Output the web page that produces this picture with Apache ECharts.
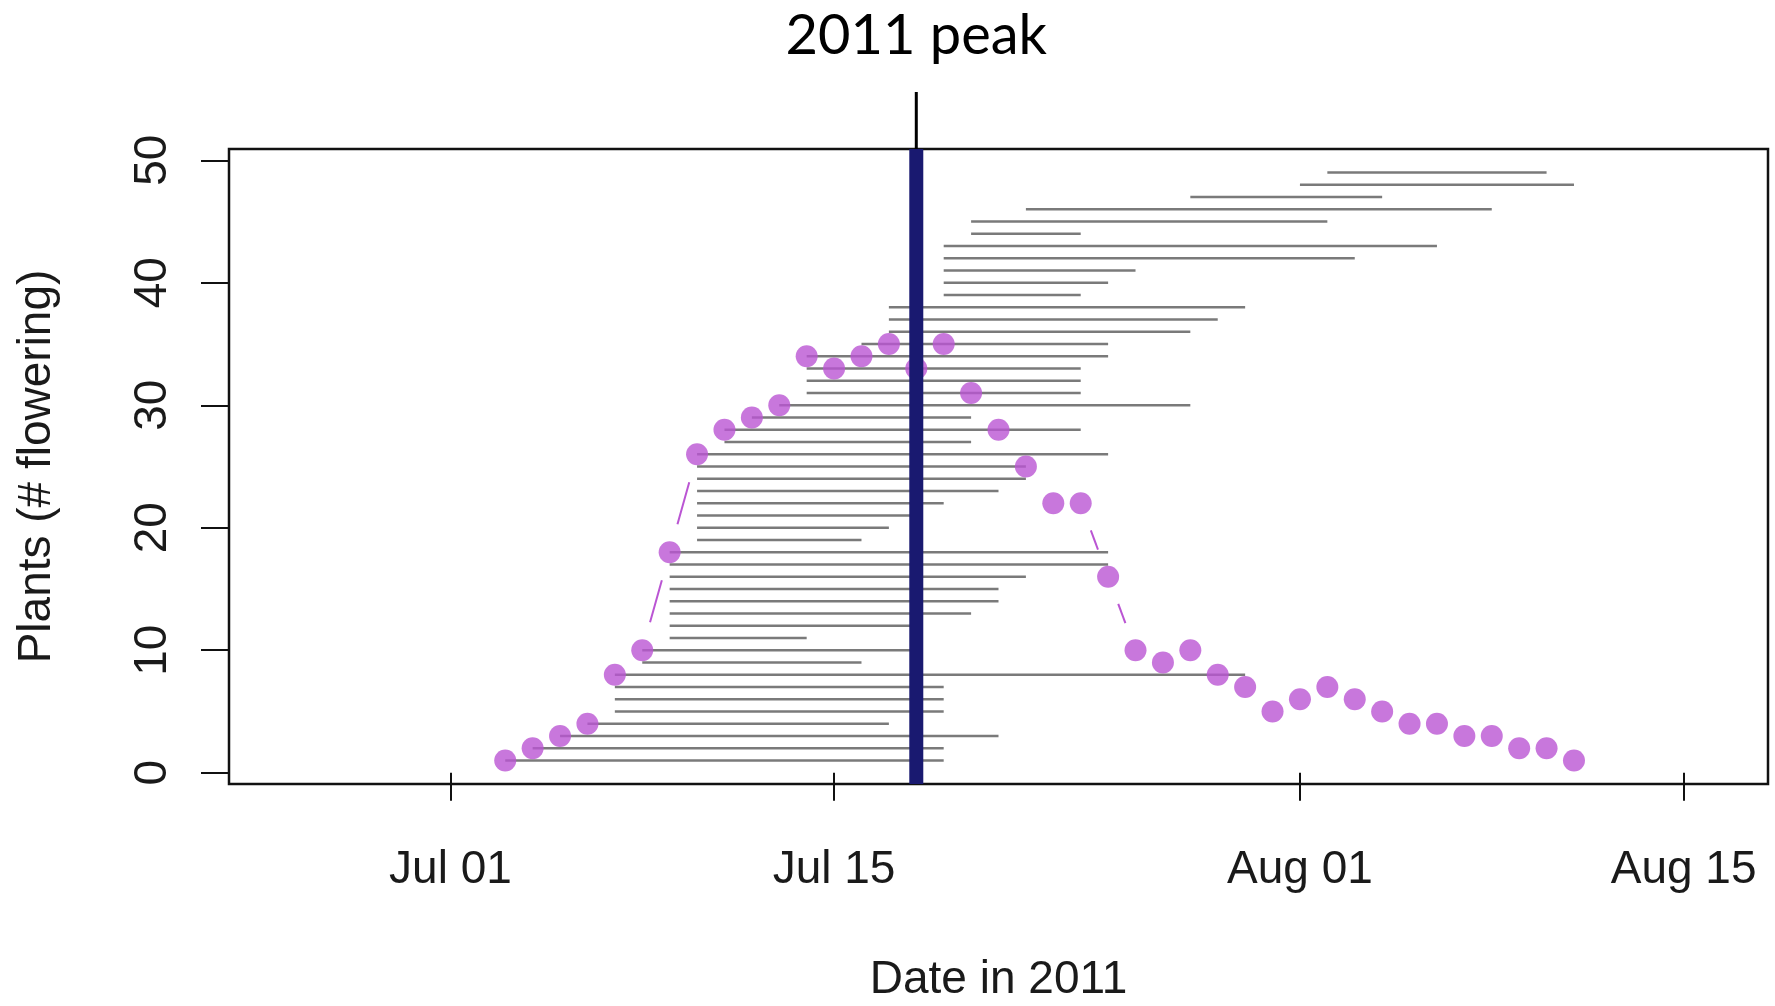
<!DOCTYPE html>
<html><head><meta charset="utf-8">
<script src="https://cdn.jsdelivr.net/npm/echarts@6/dist/echarts.min.js"></script>
<style>html,body{margin:0;padding:0;background:#fff}#chart{width:1775px;height:1006px}</style>
</head><body><div id="chart"></div>
<script>
// ---- data ----
const flowerDates = ['2011-07-03','2011-07-04','2011-07-05','2011-07-06','2011-07-07','2011-07-08','2011-07-09','2011-07-10',
  '2011-07-11','2011-07-12','2011-07-13','2011-07-14','2011-07-15','2011-07-16','2011-07-17','2011-07-18',
  '2011-07-19','2011-07-20','2011-07-21','2011-07-22','2011-07-23','2011-07-24','2011-07-25','2011-07-26',
  '2011-07-27','2011-07-28','2011-07-29','2011-07-30','2011-07-31','2011-08-01','2011-08-02','2011-08-03',
  '2011-08-04','2011-08-05','2011-08-06','2011-08-07','2011-08-08','2011-08-09','2011-08-10','2011-08-11'];
const flowerCounts = [1,2,3,4,8,10,18,26,28,29,30,34,33,34,35,33,35,31,28,25,22,22,16,10,9,10,8,7,5,6,7,6,5,4,4,3,3,2,2,1];

const plantIds = [1,2,3,4,5,6,7,8,9,10,11,12,13,14,15,16,17,18,19,20,21,22,23,24,25,26,27,28,29,30,31,32,33,34,35,36,37,38,39,40,41,42,43,44,45,46,47,48,49];
const plantStart = ['2011-07-03','2011-07-04','2011-07-05','2011-07-06','2011-07-07','2011-07-07','2011-07-07','2011-07-07',
  '2011-07-08','2011-07-08','2011-07-09','2011-07-09','2011-07-09','2011-07-09','2011-07-09','2011-07-09','2011-07-09','2011-07-09',
  '2011-07-10','2011-07-10','2011-07-10','2011-07-10','2011-07-10','2011-07-10','2011-07-10','2011-07-10',
  '2011-07-11','2011-07-11','2011-07-12','2011-07-13','2011-07-14','2011-07-14','2011-07-14','2011-07-14',
  '2011-07-16','2011-07-17','2011-07-17','2011-07-17','2011-07-19','2011-07-19','2011-07-19','2011-07-19','2011-07-19',
  '2011-07-20','2011-07-20','2011-07-22','2011-07-28','2011-08-01','2011-08-02'];
const plantEnd = ['2011-07-19','2011-07-19','2011-07-21','2011-07-17','2011-07-19','2011-07-19','2011-07-19','2011-07-30',
  '2011-07-16','2011-07-18','2011-07-14','2011-07-18','2011-07-20','2011-07-21','2011-07-21','2011-07-22','2011-07-25','2011-07-25',
  '2011-07-16','2011-07-17','2011-07-18','2011-07-19','2011-07-21','2011-07-22','2011-07-22','2011-07-25',
  '2011-07-20','2011-07-24','2011-07-20','2011-07-28','2011-07-24','2011-07-24','2011-07-24','2011-07-25',
  '2011-07-25','2011-07-28','2011-07-29','2011-07-30','2011-07-24','2011-07-25','2011-07-26','2011-08-03','2011-08-06',
  '2011-07-24','2011-08-02','2011-08-08','2011-08-04','2011-08-11','2011-08-10'];

const peakDate = '2011-07-18';
const peakLabel = '2011 peak';
const xLimits = ['2011-06-25', '2011-08-16'];
const yLimits = [1, 49];
const xTickDates = ['2011-07-01','2011-07-15','2011-08-01','2011-08-15'];
const xTickLabels = ['Jul 01','Jul 15','Aug 01','Aug 15'];
const yTickValues = [0,10,20,30,40,50];
const yTickLabels = ['0','10','20','30','40','50'];
const xTitle = 'Date in 2011';
const yTitle = 'Plants (# flowering)';

// ---- helpers ----
function ts(s){ const p = s.split('-').map(Number); return Date.UTC(p[0], p[1]-1, p[2]); }
const xl0 = ts(xLimits[0]), xl1 = ts(xLimits[1]);
const xPad = (xl1 - xl0) * 0.04;
const yPad = (yLimits[1] - yLimits[0]) * 0.04;
const xTickTs = xTickDates.map(ts);

const segData = plantIds.map((k, i) => [ts(plantStart[i]), ts(plantEnd[i]), k]);
const pointData = flowerDates.map((d, i) => [ts(d), flowerCounts[i]]);
const connData = [];
for (let i = 0; i < pointData.length - 1; i++) {
  connData.push([pointData[i][0], pointData[i][1], pointData[i+1][0], pointData[i+1][1]]);
}
const peakTs = ts(peakDate);

const PURPLE = '#BA55D3';
const NAVY = '#191970';
const GRAY = '#7a7a7a';
const axisFont = "'Liberation Sans', Arial, sans-serif";

const chart = echarts.init(document.getElementById('chart'), null, {renderer: 'canvas'});

const option = {
  backgroundColor: '#ffffff',
  animation: false,
  title: {
    text: peakLabel,
    left: 915, top: 8, textAlign: 'center', padding: 0,
    textStyle: {fontFamily: 'Lato, "Open Sans", sans-serif', fontSize: 56, fontWeight: 'normal', color: '#000'}
  },
  grid: {left: 229, top: 149, right: 7, bottom: 222, containLabel: false, outerBoundsMode: 'none',
    show: true, borderColor: '#111', borderWidth: 2.5, backgroundColor: 'transparent'},
  xAxis: {
    type: 'value', scale: true,
    min: xl0 - xPad, max: xl1 + xPad,
    name: xTitle, nameLocation: 'middle', nameGap: 173,
    nameTextStyle: {fontFamily: axisFont, fontSize: 46, color: '#1a1a1a'},
    axisLine: {show: false},
    axisTick: {show: true, inside: false, length: 28, customValues: xTickTs, lineStyle: {color: '#111', width: 2}},
    axisLabel: {show: true, customValues: xTickTs, margin: 63, fontFamily: axisFont, fontSize: 46, color: '#1a1a1a',
      formatter: function (v) { const i = xTickTs.indexOf(+v); return i >= 0 ? xTickLabels[i] : ''; }},
    splitLine: {show: false}
  },
  yAxis: {
    type: 'value',
    min: yLimits[0] - yPad, max: yLimits[1] + yPad,
    name: yTitle, nameLocation: 'middle', nameGap: 169, nameRotate: 90,
    nameTextStyle: {fontFamily: axisFont, fontSize: 46, color: '#1a1a1a'},
    axisLine: {show: false},
    axisTick: {show: true, inside: false, length: 28, customValues: yTickValues, lineStyle: {color: '#111', width: 2}},
    axisLabel: {show: true, customValues: yTickValues, rotate: 90, margin: 53, fontFamily: axisFont, fontSize: 46, color: '#1a1a1a',
      formatter: function (v) { const i = yTickValues.indexOf(+v); return i >= 0 ? yTickLabels[i] : ''; }},
    splitLine: {show: false}
  },
  series: [
    {
      name: 'plants', type: 'custom', z: 2, clip: true,
      data: segData, encode: {x: [0, 1], y: 2},
      renderItem: function (params, api) {
        const a = api.coord([api.value(0), api.value(2)]);
        const b = api.coord([api.value(1), api.value(2)]);
        return {type: 'line', shape: {x1: a[0], y1: a[1], x2: b[0], y2: b[1]},
          style: {stroke: GRAY, lineWidth: 2.5}};
      }
    },
    {
      name: 'connector', type: 'custom', z: 3, clip: true,
      data: connData, encode: {x: [0, 2], y: [1, 3]},
      renderItem: function (params, api) {
        const a = api.coord([api.value(0), api.value(1)]);
        const b = api.coord([api.value(2), api.value(3)]);
        const dx = b[0] - a[0], dy = b[1] - a[1];
        const len = Math.sqrt(dx*dx + dy*dy);
        const gap = 29;
        if (len <= 2 * gap) return null;
        const ux = dx / len, uy = dy / len;
        return {type: 'line', shape: {x1: a[0] + ux*gap, y1: a[1] + uy*gap, x2: b[0] - ux*gap, y2: b[1] - uy*gap},
          style: {stroke: PURPLE, lineWidth: 2}};
      }
    },
    {
      name: 'flowering', type: 'scatter', z: 4,
      data: pointData, symbol: 'circle', symbolSize: 22,
      itemStyle: {color: PURPLE}
    },
    {
      name: 'peak', type: 'custom', z: 5, clip: false,
      data: [[peakTs, 0]], encode: {x: 0, y: 1},
      renderItem: function (params, api) {
        const p = api.coord([api.value(0), api.value(1)]);
        const cs = params.coordSys;
        return {type: 'group', children: [
          {type: 'line', shape: {x1: p[0], y1: cs.y, x2: p[0], y2: cs.y + cs.height}, style: {stroke: NAVY, lineWidth: 14}},
          {type: 'line', shape: {x1: p[0], y1: cs.y - 57, x2: p[0], y2: cs.y}, style: {stroke: '#000', lineWidth: 3}}
        ]};
      }
    }
  ]
};
chart.setOption(option);
const px = chart.convertToPixel({xAxisIndex: 0}, peakTs);
chart.setOption({title: {left: px}});
</script></body></html>
